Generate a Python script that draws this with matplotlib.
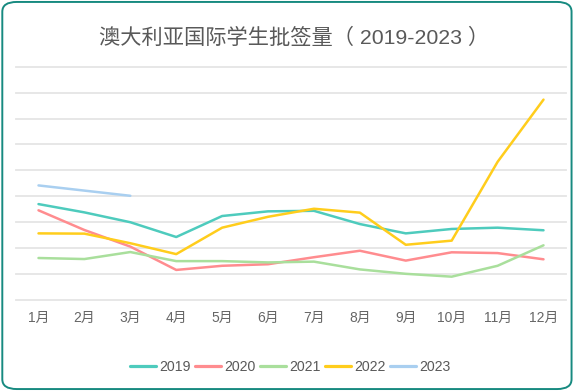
import numpy as np
import matplotlib
matplotlib.use("Agg")
import matplotlib.pyplot as plt
from matplotlib.patches import FancyBboxPatch

plt.rcParams['font.family'] = ['Liberation Sans', 'Noto Sans CJK SC']

months = ['1月', '2月', '3月', '4月', '5月', '6月', '7月', '8月', '9月', '10月', '11月', '12月']
v2019 = [3.70, 3.38, 3.00, 2.43, 3.24, 3.42, 3.44, 2.93, 2.57, 2.74, 2.79, 2.69]
v2020 = [3.46, 2.70, 2.06, 1.16, 1.32, 1.38, 1.65, 1.90, 1.52, 1.84, 1.81, 1.57]
v2021 = [1.62, 1.58, 1.85, 1.50, 1.50, 1.45, 1.48, 1.18, 1.01, 0.90, 1.32, 2.11]
v2022 = [2.57, 2.56, 2.19, 1.77, 2.79, 3.21, 3.52, 3.37, 2.13, 2.29, 5.33, 7.73]
v2023 = [4.42, 4.22, 4.02]

series = [('2019', v2019, '#4ecbbd'),
          ('2020', v2020, '#ff8c8f'),
          ('2021', v2021, '#a9df9c'),
          ('2022', v2022, '#ffcd1c'),
          ('2023', v2023, '#a9cff0')]

fig = plt.figure(figsize=(5.75, 3.91), dpi=100)
fig.patch.set_facecolor('white')

# rounded green frame
frame = FancyBboxPatch((0.004, 0.005), 0.99, 0.99, boxstyle="round,pad=0,rounding_size=0.025",
                       transform=fig.transFigure, facecolor='none', edgecolor='#178a80',
                       linewidth=1.4, zorder=5)
fig.patches.append(frame)

ax = fig.add_axes([16/575, 91/391, 550/575, 233.3/391])
ax.set_facecolor('none')
x = np.arange(len(months))

for yv in range(0, 10):
    ax.axhline(yv, color='#e5e5e5', lw=1.3, zorder=1, clip_on=False)

for name, vals, col in series:
    ax.plot(x[:len(vals)], vals, color=col, lw=1.8, label=name, zorder=3,
            solid_capstyle='round')

ax.set_xlim(-0.49, 11.49)
ax.set_ylim(0, 9)
ax.set_xticks(x)
ax.set_xticklabels(months, color='#666666', fontsize=10)
ax.tick_params(axis='x', length=0, pad=8)
ax.set_yticks([])
for s in ax.spines.values():
    s.set_visible(False)

fig.text(294/575, 1 - 38.3/391, '澳大利亚国际学生批签量（ 2019-2023 ）', ha='center', va='center',
         fontsize=15.3, color='#595959')

fig.legend(loc='center', bbox_to_anchor=(0.505, 1 - 366.7/391), ncol=5, frameon=False,
           fontsize=10.2, handlelength=1.82, handletextpad=0.26, columnspacing=0.3,
           labelcolor='#595959')
for h in fig.legends[0].get_lines():
    h.set_linewidth(2.3)

fig.savefig('out.png', dpi=100)
